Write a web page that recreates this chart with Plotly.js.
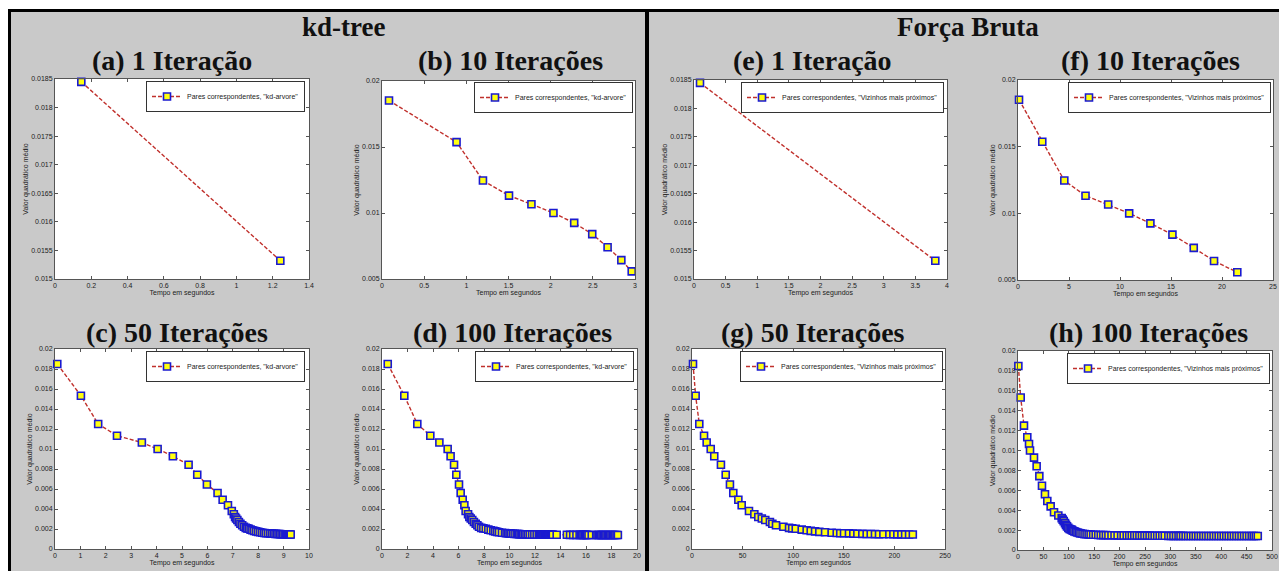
<!DOCTYPE html>
<html><head><meta charset="utf-8">
<script src="https://cdn.plot.ly/plotly-3.0.1.min.js"></script>
<style>html,body{margin:0;padding:0;background:#fff}#chart{width:1279px;height:571px}</style>
</head><body><div id="chart"></div>
<script>
// ---------- data ----------
const groupTitles = ['kd-tree', 'Força Bruta'];
const panelTitles = ['(a) 1 Iteração', '(b) 10 Iterações', '(e) 1 Iteração', '(f) 10 Iterações',
                     '(c) 50 Iterações', '(d) 100 Iterações', '(g) 50 Iterações', '(h) 100 Iterações'];
const legendKd = 'Pares correspondentes, "kd-arvore"';
const legendBf = 'Pares correspondentes, "Vizinhos mais próximos"';
const xTitle = 'Tempo em segundos';
const yTitle = 'Valor quadrático médio';

const err1 = [0.01845, 0.01532];
const timeKd1 = [0.145, 1.242];
const timeBf1 = [0.095, 3.815];

const err10 = [0.01852, 0.01537, 0.01246, 0.01132, 0.01066, 0.01000, 0.00925, 0.00840, 0.00741, 0.00643, 0.00558];
const timeKd10 = [0.083, 0.884, 1.197, 1.506, 1.772, 2.033, 2.279, 2.493, 2.675, 2.838, 2.961];
const timeBf10 = [0.10, 2.38, 4.54, 6.62, 8.84, 10.9, 12.98, 15.14, 17.23, 19.22, 21.5];

const err50 = [0.01850, 0.01533, 0.01250, 0.01133, 0.01065, 0.01000, 0.00928, 0.00842, 0.00742, 0.00645,
               0.00560, 0.00492, 0.00438, 0.00380, 0.00347, 0.00320, 0.00305, 0.00290, 0.00270, 0.00253,
               0.00237, 0.00222, 0.00211, 0.00206, 0.00202, 0.00194, 0.00187, 0.00181, 0.00176, 0.00171,
               0.00167, 0.00163, 0.00160, 0.00158, 0.00157, 0.00156, 0.00154, 0.00153, 0.00151, 0.00150,
               0.00150, 0.00149, 0.00148, 0.00148, 0.00147, 0.00147, 0.00146, 0.00146, 0.00145, 0.00145,
               0.00145];
const timeKd50 = [0.09, 1.02, 1.70, 2.44, 3.42, 4.04, 4.64, 5.26, 5.60, 5.98,
                  6.40, 6.60, 6.81, 6.96, 7.04, 7.09, 7.13, 7.18, 7.24, 7.30,
                  7.37, 7.44, 7.51, 7.57, 7.63, 7.70, 7.77, 7.84, 7.92, 8.00,
                  8.08, 8.16, 8.24, 8.31, 8.39, 8.47, 8.54, 8.61, 8.68, 8.74,
                  8.80, 8.86, 8.92, 8.98, 9.04, 9.09, 9.14, 9.18, 9.22, 9.25,
                  9.28];
const timeBf50 = [1, 3.6, 7.2, 11.9, 14.5, 18.5, 22, 28.6, 33.3, 37.5,
                  40.8, 45.8, 49.1, 56.3, 61.6, 65.5, 69, 72.4, 77, 79.4,
                  83, 90.3, 95.9, 99, 102.5, 108.4, 113.3, 117.3, 121.6, 125.8,
                  131.5, 138, 143, 146.5, 150.2, 155.1, 159.4, 163.4, 168.3, 172.6,
                  176.6, 180.8, 184.8, 189.1, 195, 199, 202.9, 206.9, 210.6, 214.5,
                  218.2];

const err100 = [0.01850, 0.01533, 0.01250, 0.01133, 0.01065, 0.01000, 0.00928, 0.00842, 0.00742, 0.00645,
                0.00560, 0.00492, 0.00438, 0.00380, 0.00347, 0.00320, 0.00305, 0.00290, 0.00270, 0.00253,
                0.00237, 0.00222, 0.00211, 0.00206, 0.00202, 0.00194, 0.00187, 0.00181, 0.00176, 0.00171,
                0.00167, 0.00163, 0.00160, 0.00158, 0.00157, 0.00156, 0.00154, 0.00153, 0.00151, 0.00150,
                0.00150, 0.00149, 0.00148, 0.00148, 0.00147, 0.00147, 0.00146, 0.00146, 0.00145, 0.00145,
                0.00145, 0.00145, 0.00145, 0.00144, 0.00144, 0.00144, 0.00144, 0.00144, 0.00143, 0.00143,
                0.00143, 0.00143, 0.00143, 0.00143, 0.00142, 0.00142, 0.00142, 0.00142, 0.00142, 0.00142,
                0.00142, 0.00141, 0.00141, 0.00141, 0.00141, 0.00141, 0.00141, 0.00141, 0.00141, 0.00141,
                0.00141, 0.00140, 0.00140, 0.00140, 0.00140, 0.00140, 0.00140, 0.00140, 0.00140, 0.00140,
                0.00140, 0.00140, 0.00140, 0.00140, 0.00140, 0.00140, 0.00140, 0.00140, 0.00140, 0.00140,
                0.00140];
const timeKd100 = [0.45, 1.75, 2.77, 3.79, 4.50, 5.15, 5.38, 5.65, 5.83, 6.04,
                   6.17, 6.33, 6.46, 6.56, 6.75, 6.85, 6.96, 7.08, 7.21, 7.35,
                   7.48, 7.61, 7.78, 7.95, 8.14, 8.34, 8.53, 8.73, 8.88, 9.03,
                   9.18, 9.41, 9.65, 9.77, 9.89, 10.0, 10.1, 10.25, 10.4, 10.56,
                   10.66, 10.76, 10.87, 10.97, 11.08, 11.2, 11.33, 11.46, 11.6, 11.78,
                   11.95, 12.13, 12.3, 12.4, 12.47, 12.54, 12.6, 12.67, 12.74, 12.8,
                   12.87, 12.94, 13.0, 13.07, 13.14, 13.2, 13.27, 13.34, 13.4, 13.7,
                   14.5, 14.75, 15.0, 15.25, 15.5, 15.6, 15.7, 15.8, 15.9, 16.0,
                   16.1, 16.2, 16.45, 16.8, 16.9, 17.0, 17.1, 17.2, 17.3, 17.4,
                   17.5, 17.6, 17.7, 17.8, 17.9, 18.0, 18.1, 18.2, 18.3, 18.4,
                   18.5];
const timeBf100 = [0.7, 5.3, 11.8, 18.3, 21.7, 23.6, 31.5, 36.7, 42, 47.2,
                   53.1, 57.7, 64.3, 70.9, 79.4, 86, 88, 90, 92.5, 94.5,
                   96.5, 99, 101.5, 104, 106, 108, 111, 114, 117, 120,
                   123, 127, 131, 135, 139, 143, 148, 153, 158, 163,
                   168, 173, 178, 184, 190, 196, 203, 208, 214, 219,
                   224, 229, 234, 239, 244, 249, 254, 259, 264, 269,
                   274, 279, 284, 289, 296, 301, 306, 311, 316, 320,
                   325, 330, 335, 340, 345, 350, 355, 360, 365, 370,
                   375, 380, 385, 390, 395, 400, 405, 410, 415, 420,
                   425, 430, 435, 440, 445, 450, 455, 460, 464, 468,
                   472];

const xRanges = [[0, 1.4], [0, 3], [0, 4], [0, 25], [0, 10], [0, 20], [0, 250], [0, 500]];
const xDticks = [0.2, 0.5, 0.5, 5, 1, 2, 50, 50];
const yRanges = [[0.015, 0.0185], [0.005, 0.02], [0.015, 0.0185], [0.005, 0.02], [0, 0.02], [0, 0.02], [0, 0.02], [0, 0.02]];
const yDticks = [0.0005, 0.005, 0.0005, 0.005, 0.002, 0.002, 0.002, 0.002];

// ---------- layout geometry (pixels) ----------
const W = 1279, H = 571;
const px = v => v / W;
const py = v => 1 - v / H;
const boxes = [ // [left, right, top, bottom]
  [55, 309, 79, 279], [382, 635, 81, 279], [694, 947, 80, 279], [1018, 1273, 80, 280],
  [55, 309, 349, 549], [382, 637, 349, 549], [692, 945, 349, 549], [1018, 1272, 351, 550]
];
const titleCenters = [[172, 61], [510, 61], [812, 61], [1150, 61], [177, 332], [512, 332], [813, 332], [1148, 332]];
const legendPos = [[305, 81], [633, 82], [944, 82], [1271, 82], [305, 351], [634, 351], [943, 351], [1270, 353]];

const series = [
  [timeKd1, err1, legendKd], [timeKd10, err10, legendKd], [timeBf1, err1, legendBf], [timeBf10, err10, legendBf],
  [timeKd50, err50, legendKd], [timeKd100, err100, legendKd], [timeBf50, err50, legendBf], [timeBf100, err100, legendBf]
];

const sans = 'Liberation Sans, Arial, sans-serif';
const serif = 'Liberation Serif, Times New Roman, serif';
const data = [];
const layout = {
  width: W, height: H, margin: {l: 0, r: 0, t: 0, b: 0},
  paper_bgcolor: '#c9c9c9', plot_bgcolor: '#ffffff',
  showlegend: true, annotations: [], shapes: []
};

series.forEach((s, i) => {
  const k = i + 1;
  const sx = k === 1 ? '' : String(k);
  const b = boxes[i];
  const legName = k === 1 ? 'legend' : 'legend' + k;
  data.push({
    x: s[0], y: s[1], name: s[2], type: 'scatter', mode: 'lines+markers',
    xaxis: 'x' + sx, yaxis: 'y' + sx, legend: legName, cliponaxis: false,
    line: {color: '#c0302c', width: 1.4, dash: '4px,2px'},
    marker: {symbol: 'square', size: 7, color: '#ffff10', line: {color: '#1a1ad0', width: 1.6}}
  });
  layout['xaxis' + sx] = {
    domain: [px(b[0]), px(b[1])], range: xRanges[i], dtick: xDticks[i], tick0: 0, anchor: 'y' + sx,
    ticks: 'inside', ticklen: 3, tickcolor: '#555', showline: true, mirror: 'allticks',
    linecolor: '#555', linewidth: 1, showgrid: false, zeroline: false, tickformat: '~g',
    tickfont: {family: sans, size: 7, color: '#222'},
    title: {text: xTitle, font: {family: sans, size: 7, color: '#222'}, standoff: 1}
  };
  layout['yaxis' + sx] = {
    domain: [py(b[3]), py(b[2])], range: yRanges[i], dtick: yDticks[i], tick0: 0, anchor: 'x' + sx,
    ticks: 'inside', ticklen: 3, tickcolor: '#555', showline: true, mirror: 'allticks',
    linecolor: '#555', linewidth: 1, showgrid: false, zeroline: false, tickformat: '~g',
    tickfont: {family: sans, size: 7, color: '#222'},
    title: {text: yTitle, font: {family: sans, size: 7, color: '#222'}, standoff: 1}
  };
  const lp = legendPos[i];
  layout[legName] = {
    x: px(lp[0]), y: py(lp[1]), xanchor: 'right', yanchor: 'top', xref: 'paper', yref: 'paper',
    bgcolor: '#ffffff', bordercolor: '#333', borderwidth: 1, itemwidth: 30,
    font: {family: sans, size: 7, color: '#222'}
  };
  const tc = titleCenters[i];
  layout.annotations.push({
    text: panelTitles[i], xref: 'paper', yref: 'paper', x: px(tc[0]), y: py(tc[1]),
    xanchor: 'center', yanchor: 'middle', showarrow: false,
    font: {family: serif, size: 28, color: '#111', weight: 'bold'}
  });
});

layout.annotations.push(
  {text: groupTitles[0], xref: 'paper', yref: 'paper', x: px(343), y: py(27), xanchor: 'center', yanchor: 'middle',
   showarrow: false, font: {family: serif, size: 27, color: '#111', weight: 'bold'}},
  {text: groupTitles[1], xref: 'paper', yref: 'paper', x: px(968), y: py(27), xanchor: 'center', yanchor: 'middle',
   showarrow: false, font: {family: serif, size: 27, color: '#111', weight: 'bold'}}
);

// white page margin and black frame lines
layout.shapes.push(
  {type: 'rect', xref: 'paper', yref: 'paper', x0: 0, x1: 1, y0: py(9), y1: 1, fillcolor: '#ffffff', line: {width: 0}, layer: 'below'},
  {type: 'rect', xref: 'paper', yref: 'paper', x0: 0, x1: px(8), y0: 0, y1: 1, fillcolor: '#ffffff', line: {width: 0}, layer: 'below'},
  {type: 'line', xref: 'paper', yref: 'paper', x0: px(8), x1: 1, y0: py(10.5), y1: py(10.5), line: {color: '#000', width: 3}},
  {type: 'line', xref: 'paper', yref: 'paper', x0: px(9.5), x1: px(9.5), y0: 0, y1: py(9), line: {color: '#000', width: 3}},
  {type: 'line', xref: 'paper', yref: 'paper', x0: px(647), x1: px(647), y0: 0, y1: py(9), line: {color: '#000', width: 4}}
);

Plotly.newPlot('chart', data, layout, {displayModeBar: false, staticPlot: true});
</script>
</body></html>
